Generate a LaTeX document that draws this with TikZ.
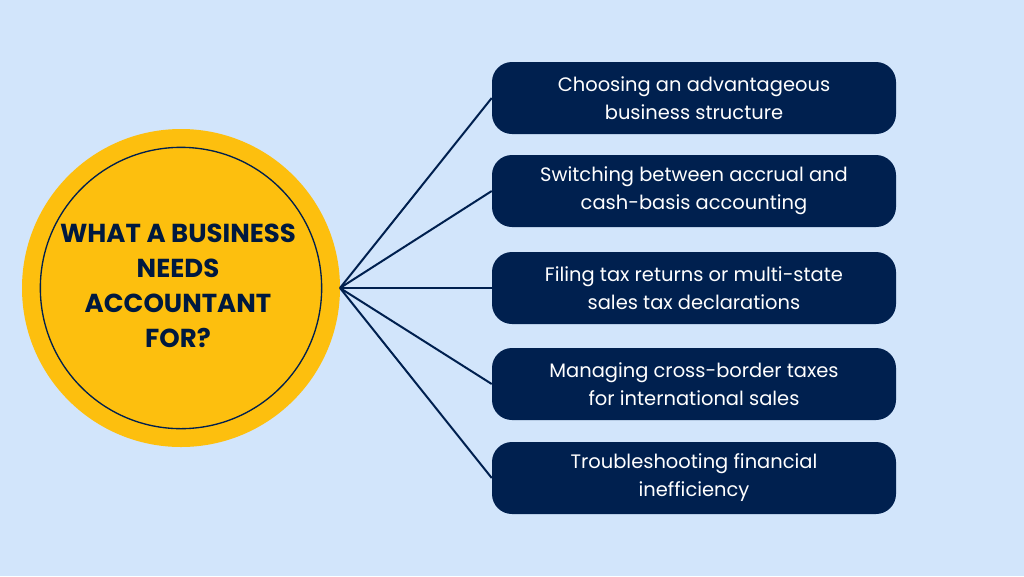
\documentclass[tikz,border=0pt]{standalone}
\usepackage{fontspec}
\setmainfont{Poppins}
\usetikzlibrary{positioning}

\definecolor{bgblue}{HTML}{D2E5FB}
\definecolor{gold}{HTML}{FDBF0E}
\definecolor{navy}{HTML}{00204F}

\tikzset{
  taskbox/.style={fill=navy, text=white, rounded corners=15pt, minimum width=303pt,
    minimum height=54pt, align=center, font=\fontsize{14.6}{21}\selectfont},
  spoke/.style={draw=navy, line width=1.5pt}
}

\begin{document}
\begin{tikzpicture}[x=0.75pt, y=-0.75pt]

\fill[bgblue] (0,0) rectangle (1024,576);
\useasboundingbox (0,0) rectangle (1024,576);

\fill[gold] (181,288) circle (119.25pt);
\draw[navy, line width=1pt] (181,288) circle (105.5pt);
\node[align=center, text=navy!80!black, font=\fontsize{19.5}{26.2}\selectfont\bfseries] (q) at (178,286)
  {WHAT A BUSINESS\\NEEDS\\ACCOUNTANT\\FOR?};

\coordinate (hub) at (340,288);

\node[taskbox] (t1) at (694,98) {Choosing an advantageous\\business structure};
\node[taskbox] (t2) at (694,191) {Switching between accrual and\\cash-basis accounting};
\node[taskbox] (t3) at (694,288) {Filing tax returns or multi-state\\sales tax declarations};
\node[taskbox] (t4) at (694,384) {Managing cross-border taxes\\for international sales};
\node[taskbox] (t5) at (694,478) {Troubleshooting financial\\inefficiency};

\foreach \t in {t1,t2,t3,t4,t5}
  \draw[spoke] (hub) -- (\t.west);

\end{tikzpicture}
\end{document}
